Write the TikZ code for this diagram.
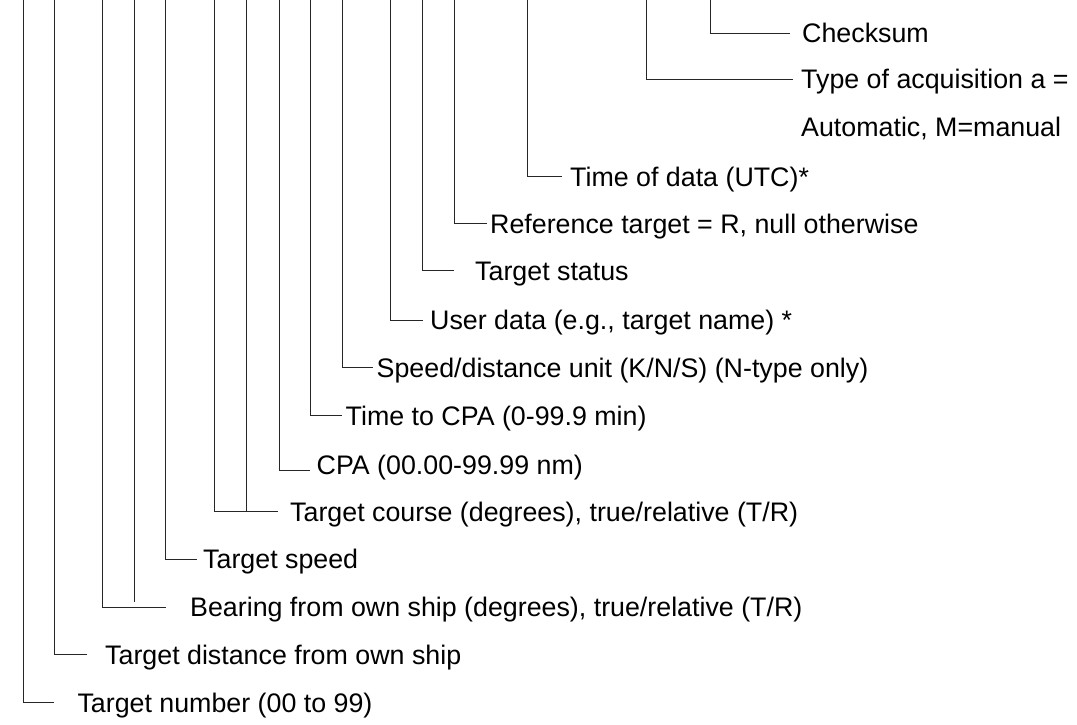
\documentclass[tikz,border=0pt]{standalone}
\usepackage{fontspec}
\setmainfont{Liberation Sans}
\begin{document}
\begin{tikzpicture}[x=1pt,y=-1pt,
  lead/.style={line width=0.9pt,draw=black!85},
  lbl/.style={anchor=base west,inner sep=0pt,font=\fontsize{26.8}{32}\selectfont}]
\useasboundingbox (0,0) rectangle (1077,724);
% labels (baseline = line y + 9.6)
\node[lbl] (chk) at (802,42.9) {Checksum};
\node[lbl] (acq) at (801,88.9) {Type of acquisition a =};
\node[lbl] (acq2) at (801,136.5) {Automatic, M=manual};
\node[lbl] (tod) at (570,186.3) {Time of data (UTC)*};
\node[lbl] (ref) at (490,233.0) {Reference target = R, null otherwise};
\node[lbl] (sts) at (475,280.3) {Target status};
\node[lbl] (usr) at (430,329.6) {User data (e.g., target name) *};
\node[lbl] (unit) at (376.5,377.2) {Speed/distance unit (K/N/S) (N-type only)};
\node[lbl] (tcpa) at (345.5,425.0) {Time to CPA (0-99.9 min)};
\node[lbl] (cpa) at (316.5,474.5) {CPA (00.00-99.99 nm)};
\node[lbl] (crs) at (290,521.0) {Target course (degrees), true/relative (T/R)};
\node[lbl] (spd) at (203,568.6) {Target speed};
\node[lbl] (brg) at (190,616.5) {Bearing from own ship (degrees), true/relative (T/R)};
\node[lbl] (dst) at (105,664.2) {Target distance from own ship};
\node[lbl] (num) at (77.3,712.0) {Target number (00 to 99)};
% tops of the fields
\foreach \n/\x in {a/23.3,b/54.3,c/102.3,d/134.7,e/165.7,f/214,g/246.3,h/279.3,
  i/310.5,j/342.7,k/390.7,l/422.3,m/454,n/527.3,o/646.7,p/710.7}
  \coordinate (top\n) at (\x,0);
% line ends
\coordinate (echk) at (790,33.3);
\coordinate (eacq) at (793,79.3);
\coordinate (etod) at (562.3,176.7);
\coordinate (eref) at (486.7,223.3);
\coordinate (ests) at (454,270.7);
\coordinate (eusr) at (423.3,320);
\coordinate (eunit) at (373.3,367.3);
\coordinate (etcpa) at (341.7,415.3);
\coordinate (ecpa) at (310,470);
\coordinate (ecrs) at (278.3,511.7);
\coordinate (espd) at (196.7,559);
\coordinate (ebrg) at (165.7,607);
\coordinate (edst) at (86.7,654.7);
\coordinate (enum) at (54.3,702.3);
% connectors
\draw[lead] (topp) |- (echk);
\draw[lead] (topo) |- (eacq);
\draw[lead] (topn) |- (etod);
\draw[lead] (topm) |- (eref);
\draw[lead] (topl) |- (ests);
\draw[lead] (topk) |- (eusr);
\draw[lead] (topj) |- (eunit);
\draw[lead] (topi) |- (etcpa);
\draw[lead] (toph) |- (ecpa);
\draw[lead] (topf) |- (ecrs);
\draw[lead] (topg) -- (topg |- ecrs);
\draw[lead] (tope) |- (espd);
\draw[lead] (topc) |- (ebrg);
\draw[lead] (topd) -- ([yshift=5pt]topd |- ebrg);
\draw[lead] (topb) |- (edst);
\draw[lead] (topa) |- (enum);
\end{tikzpicture}
\end{document}
